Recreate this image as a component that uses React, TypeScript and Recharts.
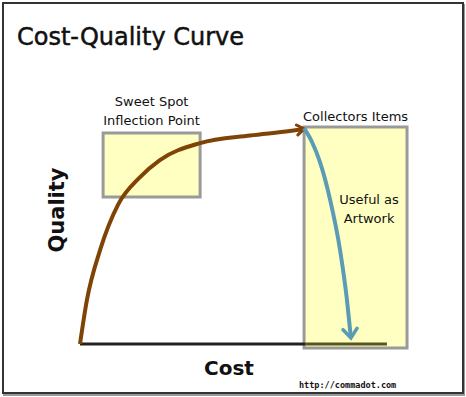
import React from 'react';
import {
  ComposedChart, Line, XAxis, YAxis, ReferenceArea, ReferenceLine,
} from 'recharts';

// cost (0-100) vs quality (0-100)
const riseCost = [0, 2.1, 6.1, 11.5, 18.2, 24.2, 36.4, 51.5, 63.6, 67.9];
const riseQuality = [0, 16.8, 35.9, 53.1, 63.7, 70.2, 76.7, 79.6, 81.3, 82.1];

const dropCost = [67.9, 70.3, 72.7, 75.8, 78.8, 80.9, 82.1];
const dropQuality = [82.4, 77.1, 69.5, 55, 35.9, 16.8, 2.3];

const sweetSpot = { x1: 7, x2: 36.4, y1: 56.1, y2: 80.5 };
const collectors = { x1: 67.9, x2: 99.1, y1: -1.5, y2: 82.8 };
const axisBreak = 68.2;
const axisEnd = 93;

const FONT = '"DejaVu Sans", sans-serif';
const BROWN = '#7f4305';
const BLUE = '#5a9bb6';
const BOX_FILL = '#ffffc2';
const BOX_STROKE = '#9a9a9a';

const riseData = riseCost.map((x, i) => ({ x, y: riseQuality[i] }));
const dropData = dropCost.map((x, i) => ({ x, y: dropQuality[i] }));

function SweetLabel({ viewBox }: any) {
  const cx = viewBox.x + viewBox.width / 2;
  return (
    <g fontFamily={FONT} fontSize={13} fill="#111" textAnchor="middle">
      <text x={cx} y={viewBox.y - 27}>Sweet Spot</text>
      <text x={cx} y={viewBox.y - 8}>Inflection Point</text>
    </g>
  );
}

function CollectorsLabel({ viewBox }: any) {
  const cx = viewBox.x + viewBox.width / 2;
  return (
    <g fontFamily={FONT} fontSize={13} fill="#111" textAnchor="middle">
      <text x={cx} y={viewBox.y - 6}>Collectors Items</text>
      <text x={viewBox.x + 65} y={viewBox.y + 77}>Useful as</text>
      <text x={viewBox.x + 65} y={viewBox.y + 96}>Artwork</text>
    </g>
  );
}

export default function App() {
  return (
    <div style={{ position: 'absolute', left: 0, top: 0, width: 466, height: 397, background: '#fff' }}>
      <div style={{
        position: 'absolute', left: 2, top: 2, width: 458, height: 388,
        border: '2px solid #333', boxShadow: '1px 2px 0 #999',
      }} />
      <ComposedChart
        width={466}
        height={397}
        margin={{ top: 82, right: 56, bottom: 13, left: 80 }}
        style={{ position: 'absolute', left: 0, top: 0 }}
      >
        <defs>
          <marker id="arrowBrown" markerWidth="14" markerHeight="14" refX="10" refY="7"
            orient="auto" markerUnits="userSpaceOnUse">
            <path d="M3,2 L10,7 L3,12" fill="none" stroke={BROWN} strokeWidth="3" strokeLinecap="round" />
          </marker>
          <marker id="arrowBlue" markerWidth="18" markerHeight="18" refX="12" refY="9"
            orient="auto" markerUnits="userSpaceOnUse">
            <path d="M3,2 L12,9 L3,16" fill="none" stroke={BLUE} strokeWidth="3.5" strokeLinecap="round" />
          </marker>
        </defs>
        <text x={17} y={45} fontFamily={FONT} fontSize={24} fill="#111" stroke="#111" strokeWidth={0.5}>
          Cost-Quality Curve
        </text>
        <text x={57} y={210} textAnchor="middle" dominantBaseline="central"
          transform="rotate(-90, 57, 210)"
          fontFamily={FONT} fontSize={21} fontWeight="bold" fill="#111">Quality</text>
        <text x={299} y={388} fontFamily='"DejaVu Sans Mono", monospace' fontSize={8.5} fontWeight="bold" fill="#111">
          http://commadot.com
        </text>
        <XAxis
          dataKey="x"
          type="number"
          domain={[0, 100]}
          axisLine={false}
          tick={false}
          tickLine={false}
          height={40}
          label={(p: any) => (
            <text x={p.viewBox.x + 149} y={p.viewBox.y + 31} textAnchor="middle"
              fontFamily={FONT} fontSize={20} fontWeight="bold" fill="#111">Cost</text>
          )}
        />
        <YAxis
          type="number"
          domain={[0, 100]}
          width={0}
          axisLine={{ stroke: '#222', strokeWidth: 2 }}
          tick={false}
          tickLine={false}
        />
        <ReferenceArea {...sweetSpot} fill={BOX_FILL} fillOpacity={1}
          stroke={BOX_STROKE} strokeWidth={3} ifOverflow="visible" label={SweetLabel} />
        <ReferenceArea {...collectors} fill={BOX_FILL} fillOpacity={1}
          stroke={BOX_STROKE} strokeWidth={3} ifOverflow="visible" label={CollectorsLabel} />
        <ReferenceLine segment={[{ x: 0, y: 0 }, { x: axisBreak, y: 0 }]} stroke="#222" strokeWidth={3} ifOverflow="visible" />
        <ReferenceLine segment={[{ x: axisBreak, y: 0 }, { x: axisEnd, y: 0 }]} stroke="#55551e" strokeWidth={3} ifOverflow="visible" />
        <Line data={riseData} dataKey="y" type="monotone" stroke={BROWN} strokeWidth={4}
          dot={false} activeDot={false} isAnimationActive={false} markerEnd="url(#arrowBrown)" />
        <Line data={dropData} dataKey="y" type="monotone" stroke={BLUE} strokeWidth={4}
          dot={false} activeDot={false} isAnimationActive={false} markerEnd="url(#arrowBlue)" />
      </ComposedChart>
    </div>
  );
}
